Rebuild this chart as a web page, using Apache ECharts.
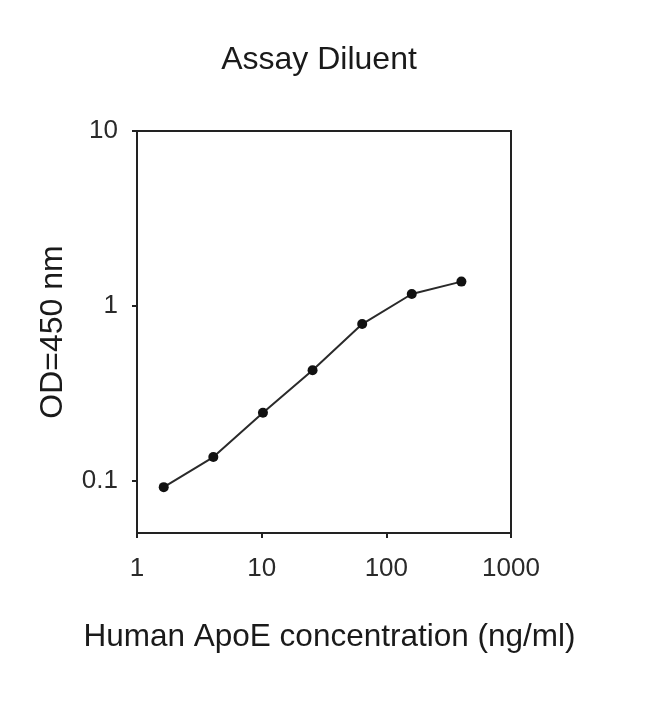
<!DOCTYPE html>
<html>
<head>
<meta charset="utf-8">
<script src="https://cdn.jsdelivr.net/npm/echarts@6/dist/echarts.min.js"></script>
<style>
html,body{margin:0;padding:0;background:#fff;}
#chart{width:650px;height:725px;}
</style>
</head>
<body>
<div id="chart"></div>
<script>
var titleText = "Assay Diluent";
var xName = "Human ApoE concentration (ng/ml)";
var yName = "OD=450 nm";
var concentration = [1.6384, 4.096, 10.24, 25.6, 64, 160, 400];
var od450 = [0.0915, 0.136, 0.244, 0.427, 0.785, 1.167, 1.374];
var xTicks = [1, 10, 100, 1000];
var yTicks = [0.1, 1, 10];

var chart = echarts.init(document.getElementById('chart'), null, {renderer: 'canvas'});
var font = "'Liberation Sans', Arial, sans-serif";
var option = {
  backgroundColor: '#ffffff',
  animation: false,
  title: {
    text: titleText,
    left: 314,
    textAlign: 'center',
    top: 39,
    textStyle: {fontFamily: font, fontSize: 32, fontWeight: 'normal', color: '#1a1a1a'}
  },
  grid: {
    left: 137, top: 131, right: 139, bottom: 192,
    show: true, borderColor: '#222', borderWidth: 2, backgroundColor: 'transparent'
  },
  xAxis: {
    type: 'log', logBase: 10, min: 1, max: 1000,
    name: xName, nameLocation: 'middle', nameGap: 88,
    nameTextStyle: {fontFamily: font, fontSize: 31.5, color: '#1a1a1a', padding: [0, 0, 0, 11]},
    axisLine: {show: true, onZero: false, lineStyle: {color: '#222', width: 2}},
    axisTick: {show: true, inside: false, length: 5, lineStyle: {color: '#222', width: 2}, customValues: xTicks},
    axisLabel: {fontFamily: font, fontSize: 26, color: '#2a2a2a', margin: 23, customValues: xTicks,
      formatter: function (v) { return String(v); }},
    splitLine: {show: false},
    minorTick: {show: false}
  },
  yAxis: {
    type: 'log', logBase: 10, min: 0.05, max: 10,
    name: yName, nameLocation: 'middle', nameGap: 68, nameRotate: 90,
    nameTextStyle: {fontFamily: font, fontSize: 32, color: '#1a1a1a'},
    axisLine: {show: true, onZero: false, lineStyle: {color: '#222', width: 2}},
    axisTick: {show: true, inside: false, length: 5, lineStyle: {color: '#222', width: 2}, customValues: yTicks},
    axisLabel: {fontFamily: font, fontSize: 26, color: '#2a2a2a', margin: 19, customValues: yTicks,
      formatter: function (v) { return String(v); }},
    splitLine: {show: false}
  },
  series: [{
    type: 'line',
    data: concentration.map(function (c, i) { return [c, od450[i]]; }),
    symbol: 'circle', symbolSize: 10,
    itemStyle: {color: '#111'},
    lineStyle: {color: '#2a2a2a', width: 2}
  }]
};
chart.setOption(option);
</script>
</body>
</html>
